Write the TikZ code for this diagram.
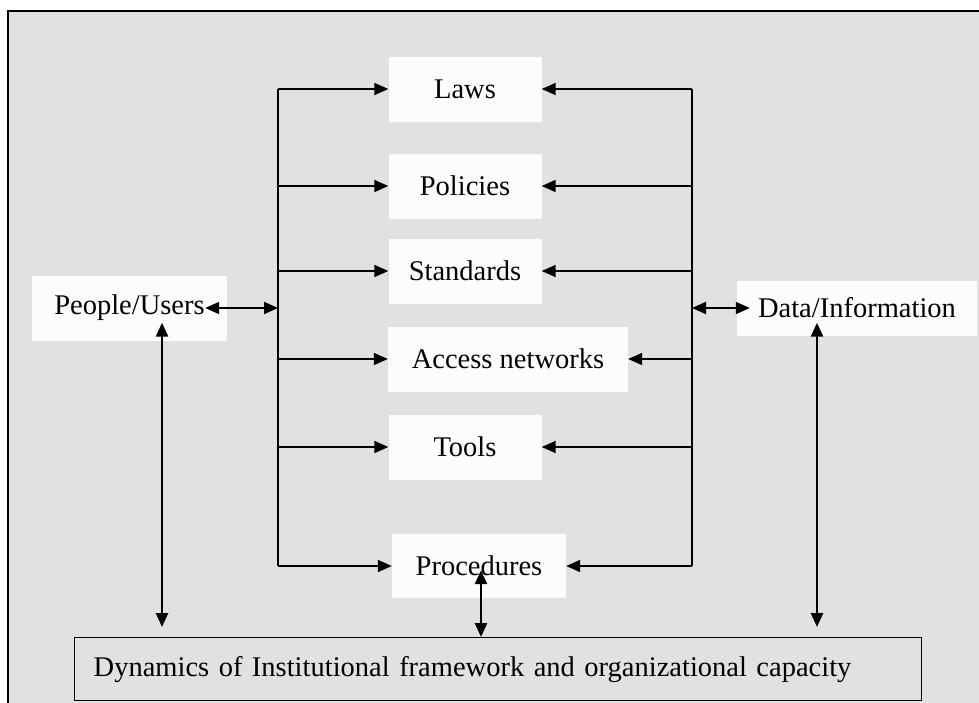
\documentclass[tikz,border=0pt]{standalone}
\usepackage{fontspec}
\setmainfont{Liberation Serif}
\usetikzlibrary{arrows.meta}
\definecolor{bggray}{RGB}{225,225,225}
\definecolor{boxwhite}{RGB}{252,252,252}

\begin{document}
\begin{tikzpicture}[x=1pt,y=-1pt,
   box/.style={fill=boxwhite, minimum width=153pt, minimum height=65pt, inner sep=0pt,
     font=\fontsize{28.5}{34}\selectfont},
   one/.style={-{Triangle[length=14pt,width=12pt]}, line width=1.8pt},
   dbl/.style={{Triangle[length=14pt,width=12pt]}-{Triangle[length=14pt,width=12pt]}, line width=1.8pt},
   vdbl/.style={dbl, line width=2.6pt}]
   \useasboundingbox (0,0) rectangle (979,702);
   \fill[white] (0,0) rectangle (979,702);
   \begin{scope}
     \clip (0,0) rectangle (979,702);
     \draw[fill=bggray, line width=2pt] (8,11) rectangle (995,715);
   \end{scope}

   % middle column
   \node[box] (laws) at (465,89) {Laws};
   \node[box] (policies) at (465,186) {Policies};
   \node[box] (standards) at (465,271) {Standards};
   \node[box, minimum width=240pt] (access) at (508,359) {Access networks};
   \node[box] (tools) at (465,447) {Tools};
   \node[box, minimum width=174pt, minimum height=64pt] (procedures) at (479,566) {Procedures};

   % sides
   \node[box, minimum width=195pt] (people) at (129.5,308) {People/Users};
   \node[box, minimum width=240pt, minimum height=55pt] (data) at (857,308) {Data/Information};

   \node[draw, fill=bggray, line width=1.4pt, anchor=north west, minimum height=63pt,
     text width=809pt, inner xsep=19pt, inner ysep=0pt, align=left,
     font=\fontsize{28.5}{34}\selectfont] (dyn) at (74,637)
     {Dynamics of Institutional framework and organizational capacity};

   \coordinate (spineL) at (278,0);
   \coordinate (spineR) at (692,0);
   \coordinate (colL) at (162,0);
   \coordinate (colM) at (481,0);
   \coordinate (colR) at (817,0);

   \draw[line width=1.8pt] (spineL |- laws) -- (spineL |- procedures);
   \draw[line width=1.8pt] (spineR |- laws) -- (spineR |- procedures);
   \foreach \n in {laws,policies,standards,access,tools,procedures} {
     \draw[one] (spineL |- \n.west) -- (\n.west);
     \draw[one] (spineR |- \n.east) -- (\n.east);
   }

   \draw[dbl, shorten <=-22pt] (people.east) -- (spineL |- people.east);
   \draw[dbl, shorten >=-13pt] (spineR |- data.west) -- (data.west);

   \draw[vdbl, shorten <=-18pt, shorten >=10pt] (people.south -| colL) -- (dyn.north -| colL);
   \draw[vdbl, shorten <=-13pt, shorten >=10pt] (data.south -| colR) -- (dyn.north -| colR);
   \draw[vdbl, shorten <=-28pt] (procedures.south -| colM) -- (dyn.north -| colM);
\end{tikzpicture}
\end{document}
